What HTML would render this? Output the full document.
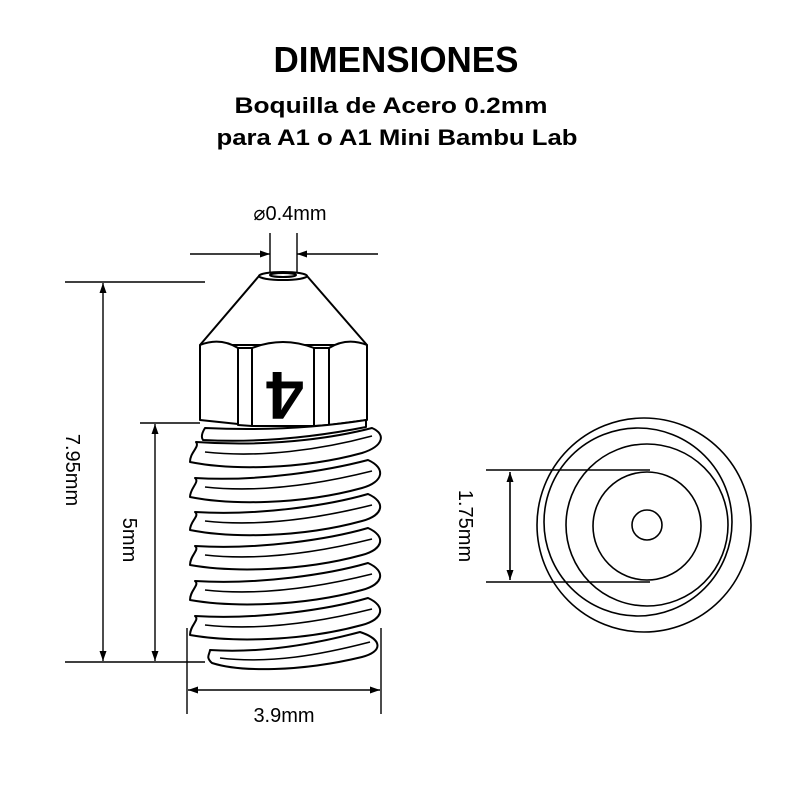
<!DOCTYPE html>
<html><head><meta charset="utf-8"><style>
html,body{margin:0;padding:0;background:#fff;width:800px;height:800px;overflow:hidden}
svg{display:block}
text{font-family:"Liberation Sans",sans-serif}
</style></head><body>
<svg width="800" height="800" viewBox="0 0 800 800" xmlns="http://www.w3.org/2000/svg">
<defs>
<marker id="a" viewBox="0 0 10 10" refX="10" refY="5" markerWidth="10" markerHeight="10" orient="auto-start-reverse" markerUnits="userSpaceOnUse"><path d="M0,1.5 L10,5 L0,8.5z" fill="#000"/></marker>
</defs>
<text x="396" y="72" font-size="36" font-weight="bold" text-anchor="middle" textLength="245" lengthAdjust="spacingAndGlyphs">DIMENSIONES</text>
<text x="391" y="113" font-size="22" font-weight="bold" text-anchor="middle" textLength="313" lengthAdjust="spacingAndGlyphs">Boquilla de Acero 0.2mm</text>
<text x="397" y="145" font-size="22" font-weight="bold" text-anchor="middle" textLength="361" lengthAdjust="spacingAndGlyphs">para A1 o A1 Mini Bambu Lab</text>

<g stroke="#000" fill="none" stroke-width="1.4">
<line x1="270" y1="233" x2="270" y2="272"/><line x1="297" y1="233" x2="297" y2="272"/>
<line x1="190" y1="254" x2="270" y2="254" marker-end="url(#a)"/>
<line x1="378" y1="254" x2="297" y2="254" marker-end="url(#a)"/>
<line x1="65" y1="282" x2="205" y2="282"/><line x1="65" y1="662" x2="205" y2="662"/>
<line x1="103" y1="283" x2="103" y2="661" marker-start="url(#a)" marker-end="url(#a)"/>
<line x1="140" y1="423" x2="200" y2="423"/>
<line x1="155" y1="424" x2="155" y2="661" marker-start="url(#a)" marker-end="url(#a)"/>
<line x1="187" y1="628" x2="187" y2="714"/><line x1="381" y1="628" x2="381" y2="714"/>
<line x1="188" y1="690" x2="380" y2="690" marker-start="url(#a)" marker-end="url(#a)"/>
</g>

<g stroke="#000" fill="#fff" stroke-width="2" stroke-linejoin="round">
<path d="M259,276 L307,276 L367,345 L200,345 Z"/>
<ellipse cx="283" cy="276" rx="24" ry="4"/>
<ellipse cx="283" cy="275" rx="13" ry="2" />
<path d="M200,345 Q220,337 238,348 L238,424 L200,420 Z"/>
<path d="M238,348 L252,348 L252,426 L238,425 Z"/>
<path d="M252,348 Q283,336 314,348 L314,426 L252,426 Z"/>
<path d="M314,348 L329,348 L329,425 L314,426 Z"/>
<path d="M329,348 Q347,337 367,345 L367,420 L329,425 Z"/>
</g>
<text x="0" y="0" font-size="68" font-weight="bold" transform="translate(285,390) rotate(180)" text-anchor="middle" dominant-baseline="middle">4</text>

<g stroke="#000" fill="#fff" stroke-width="2" stroke-linejoin="round">
<path d="M205,428 Q200,436 203,440 Q280,444 366,427 L366,420 Q290,432 205,428Z"/>
<path d="M196,442 C280,448 345,435 372,428 C386,434 384,446 362,453 C300,470 230,470 190,462 C190,452 200,447 196,442Z"/>
<path d="M195,478 C260,482 330,470 368,460 C386,468 384,482 362,488 C300,505 230,505 190,497 C190,488 200,482 195,478Z"/>
<path d="M195,512 C260,516 330,505 368,494 C386,502 384,515 362,521 C300,538 230,538 190,530 C190,521 200,516 195,512Z"/>
<path d="M195,546 C260,550 330,539 368,528 C386,536 384,549 362,555 C300,572 230,572 190,565 C190,555 200,550 195,546Z"/>
<path d="M195,581 C260,585 330,574 368,563 C386,571 384,584 362,590 C300,607 230,607 190,600 C190,590 200,585 195,581Z"/>
<path d="M195,616 C260,620 330,609 368,598 C386,606 384,619 362,625 C300,642 230,642 190,635 C190,625 200,620 195,616Z"/>
<path d="M210,650 C270,654 330,640 360,632 C384,640 382,652 362,657 C300,672 240,672 212,663 C205,657 210,654 210,650Z"/>
</g>
<g stroke="#000" fill="none" stroke-width="1.6">
<path d="M205,452 C260,458 320,450 372,436"/>
<path d="M205,487 C260,493 320,484 372,471"/>
<path d="M205,521 C260,527 320,518 372,505"/>
<path d="M205,555 C260,561 320,552 372,539"/>
<path d="M205,590 C260,596 320,587 372,574"/>
<path d="M205,625 C260,631 320,622 372,609"/>
<path d="M220,658 C270,664 320,655 370,642"/>
</g>

<text font-size="20" transform="translate(66,470) rotate(90)" text-anchor="middle">7.95mm</text>
<text font-size="20" transform="translate(123,540) rotate(90)" text-anchor="middle">5mm</text>
<text x="284" y="722" font-size="20" text-anchor="middle">3.9mm</text>
<text x="290" y="220" font-size="20" text-anchor="middle">⌀0.4mm</text>

<g stroke="#000" fill="none" stroke-width="1.6">
<circle cx="644" cy="525" r="107"/>
<circle cx="638" cy="522" r="94"/>
<circle cx="647" cy="525" r="81"/>
<circle cx="647" cy="526" r="54"/>
<circle cx="647" cy="525" r="15"/>
<line x1="486" y1="470" x2="650" y2="470"/><line x1="486" y1="582" x2="650" y2="582"/>
<line x1="510" y1="472" x2="510" y2="580" marker-start="url(#a)" marker-end="url(#a)"/>
</g>
<text font-size="20" transform="translate(459,526) rotate(90)" text-anchor="middle">1.75mm</text>
</svg>
</body></html>
